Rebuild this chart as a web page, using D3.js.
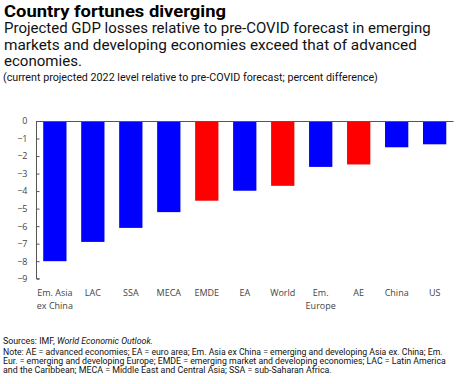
<!DOCTYPE html>
<html>
<head>
<meta charset="utf-8">
<script src="https://cdn.jsdelivr.net/npm/d3@7"></script>
<style>
  body { margin: 0; background: #fff; }
  svg { display: block; }
  .title { font-family: Roboto, sans-serif; font-weight: bold; font-size: 16.5px; fill: #000; }
  .sub { font-family: Roboto, sans-serif; font-size: 14px; fill: #111; }
  .cap { font-family: Roboto, sans-serif; font-size: 10.5px; fill: #111; }
  .note { font-family: Roboto, sans-serif; font-size: 9.2px; fill: #111; }
  .axis text { font-family: "Open Sans", sans-serif; font-size: 9px; fill: #444; }
</style>
</head>
<body>
<svg id="chart" width="463" height="384"></svg>
<script>
// categories, values, and which ones are aggregates (red)
const categories = ["Em. Asia\nex China", "LAC", "SSA", "MECA", "EMDE", "EA", "World", "Em.\nEurope", "AE", "China", "US"];
const values = [-8.0, -6.9, -6.1, -5.2, -4.55, -3.98, -3.7, -2.62, -2.48, -1.5, -1.33];
const highlight = ["EMDE", "World", "AE"];
const yTicks = [0, -1, -2, -3, -4, -5, -6, -7, -8, -9];

const svg = d3.select("#chart");

// stretch/squeeze a text line to the width
function squeeze(sel, x0, w) {
  const n = sel.node().getComputedTextLength();
  sel.attr("x", 0).attr("transform", `translate(${x0},0) scale(${w / n},1)`);
}

// header text
svg.append("text").attr("class", "title").attr("y", 17.5)
  .text("Country fortunes diverging").call(squeeze, 4, 222);
const subLines = [
  ["Projected GDP losses relative to pre-COVID forecast in emerging", 427],
  ["markets and developing economies exceed that of advanced", 413],
  ["economies.", 78]
];
subLines.forEach((d, i) => {
  svg.append("text").attr("class", "sub").attr("y", 33.5 + i * 16.2)
    .text(d[0]).call(squeeze, 4, d[1]);
});
svg.append("text").attr("class", "cap").attr("y", 81.5)
  .text("(current projected 2022 level relative to pre-COVID forecast; percent difference)")
  .call(squeeze, 3, 375);

const x = d3.scaleBand()
  .domain(categories)
  .range([36, 453.5])
  .paddingInner(0.387)
  .paddingOuter(0.19);

const y = d3.scaleLinear().domain([0, -9]).range([121, 278.7]);

const g = svg.append("g");

g.selectAll(".bar").data(values).enter().append("rect")
  .attr("class", "bar")
  .attr("x", (d, i) => x(categories[i]))
  .attr("y", y(0))
  .attr("width", x.bandwidth())
  .attr("height", d => y(d) - y(0))
  .attr("fill", (d, i) => highlight.includes(categories[i]) ? "#ff0000" : "#0000ff");

// y axis, ticks inside
const yAxis = g.append("g").attr("class", "axis")
  .attr("transform", "translate(36.5,0)")
  .call(d3.axisRight(y).tickValues(yTicks).tickSize(3).tickFormat(d3.format("d")));
yAxis.select(".domain").attr("stroke", "#555").attr("d", `M3,${y(-9)}H0V${y(0)}`);
yAxis.selectAll(".tick line").attr("stroke", "#555");
yAxis.selectAll(".tick text").attr("x", -9).attr("text-anchor", "end").attr("dy", "0.32em");

// zero line
g.append("line").attr("x1", 36).attr("x2", 453.5).attr("y1", y(0) + 0.5).attr("y2", y(0) + 0.5)
  .attr("stroke", "#555").attr("stroke-width", 1);

// category labels
const xl = g.append("g").attr("class", "axis");
categories.forEach(c => {
  const t = xl.append("text")
    .attr("x", x(c) + x.bandwidth() / 2)
    .attr("y", 296)
    .attr("text-anchor", "middle");
  c.split("\n").forEach((line, j) => {
    t.append("tspan").attr("x", x(c) + x.bandwidth() / 2).attr("dy", j ? 13 : 0).text(line);
  });
});

// footer
const src = svg.append("text").attr("class", "note").attr("y", 344.5);
src.append("tspan").text("Sources: IMF, ");
src.append("tspan").attr("font-style", "italic").text("World Economic Outlook.");
src.call(squeeze, 3, 150);
const noteLines = [
  ["Note: AE = advanced economies; EA = euro area; Em. Asia ex China = emerging and developing Asia ex. China; Em.", 440],
  ["Eur. = emerging and developing Europe; EMDE = emerging market and developing economies; LAC = Latin America", 443],
  ["and the Caribbean; MECA = Middle East and Central Asia; SSA = sub-Saharan Africa.", 329]
];
noteLines.forEach((d, i) => {
  svg.append("text").attr("class", "note").attr("y", 355.5 + i * 9)
    .text(d[0]).call(squeeze, 3, d[1]);
});
</script>
</body>
</html>
